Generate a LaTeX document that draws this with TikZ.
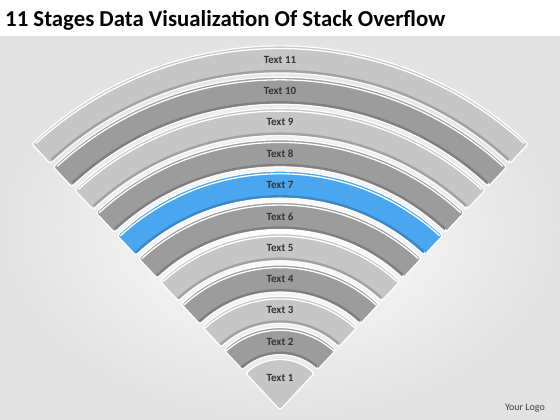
\documentclass[tikz,border=0pt]{standalone}
\usepackage{fontspec}
\setmainfont{Carlito}
\usetikzlibrary{positioning}
\definecolor{bandL}{HTML}{C6C6C6}
\definecolor{bandD}{HTML}{9C9C9C}
\definecolor{bandB}{HTML}{4AA6EE}
\definecolor{bgrim}{HTML}{E2E2E2}
\definecolor{ink}{HTML}{1E1E1E}

\begin{document}
\begin{tikzpicture}[x=1pt, y=1pt,
      lbl/.style={font=\fontsize{11}{13}\selectfont\bfseries, text=ink!90, inner sep=0pt},
      band/.style={draw=white, line width=1.2pt, rounded corners=2.5pt},
      rim/.style={draw=white, line width=1.3pt, line cap=round},
      dim/.style={draw=black, draw opacity=0.18, line width=2.5pt}]
    \useasboundingbox (0,0) rectangle (560,420);
    \shade[inner color=white, outer color=bgrim] (0,0) rectangle (560,383);
    \coordinate (c) at (280,10);
    \node[font=\fontsize{22.8}{26}\selectfont\bfseries, anchor=base west, inner sep=0pt] (title) at (5,393) {11 Stages Data Visualization Of Stack Overflow};
    \foreach \k in {2,...,11} {
      \pgfmathsetmacro{\rin}{55+(\k-2)*31.3}
      \pgfmathsetmacro{\rout}{\rin+27}
      \pgfmathsetmacro{\rmid}{\rin+13.5}
      \pgfmathsetmacro{\rhi}{\rout-2.2}
      \pgfmathsetmacro{\rlo}{\rin+2.2}
      \ifodd\k \def\bc{bandL}\else \def\bc{bandD}\fi
      \ifnum\k=7 \def\bc{bandB}\fi
      \path[band, fill=\bc] ([shift={(c)}]47:\rin) -- ([shift={(c)}]47:\rout) arc[start angle=47, end angle=133, radius=\rout]
        -- ([shift={(c)}]133:\rin) arc[start angle=133, end angle=47, radius=\rin] -- cycle;
      \draw[dim] ([shift={(c)}]47.6:\rlo) arc[start angle=47.6, end angle=132.4, radius=\rlo];
      \draw[rim] ([shift={(c)}]47.6:\rhi) arc[start angle=47.6, end angle=132.4, radius=\rhi];
      \node[lbl] (t\k) at ([yshift=\rmid pt]c) {Text \k};
    }
    \path[band, fill=bandL] (c) -- ([shift={(c)}]47:50) arc[start angle=47, end angle=133, radius=50] -- cycle;
    \node[lbl] (t1) at ([yshift=32pt]c) {Text 1};
    \node[font=\fontsize{10}{12}\selectfont, text=ink!85, anchor=base east, inner sep=0pt] (logo) at (545,9) {Your Logo};
  \end{tikzpicture}
\end{document}
